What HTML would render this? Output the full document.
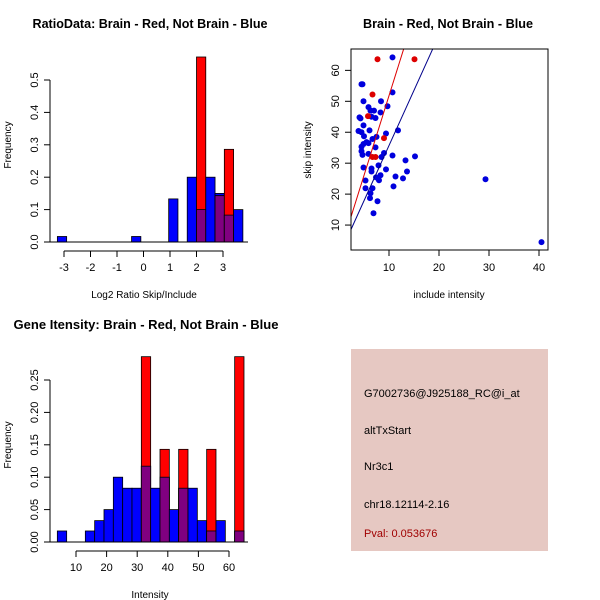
<!DOCTYPE html>
<html><head><meta charset="utf-8"><style>
body{margin:0;background:#fff;}
svg{display:block;font-family:"Liberation Sans",sans-serif;}
</style></head><body>
<svg id="chart" width="600" height="600" viewBox="0 0 600 600"></svg>
<script>
// ---- Data: ratio histogram ----
const ratioBreakStart = -3.25;
const ratioBinWidth = 0.35;
const ratioBlue = [0.017,0,0,0,0,0,0,0,0.017,0,0,0,0.133,0,0.2,0.1,0.2,0.15,0.083,0.1];
const ratioRed  = [0,0,0,0,0,0,0,0,0,0,0,0,0,0,0,0.571,0,0.143,0.286,0];
const ratioXTicks = [-3,-2,-1,0,1,2,3];
const ratioYTicks = [0,0.1,0.2,0.3,0.4,0.5];
// ---- Data: scatter ----
const blueX = [10.7,4.5,4.7,10.7,4.9,8.4,9.7,5.9,6.3,7,8.3,4.1,4.3,6.5,7.3,4.9,6.1,11.8,3.9,4.5,9.4,5,6.7,7.5,5.5,5.9,4.9,4.5,4.5,4.7,7.3,5.9,9,8.5,10.7,15.2,13.3,4.9,6.5,6.5,7.9,9.4,13.6,7.4,8.3,8,5.3,11.3,12.8,5.3,10.9,6.7,6.3,6.2,7.7,6.9,29.3,40.5];
const blueY = [64.2,55.5,55.5,52.9,50,50,48.4,48.1,47,47,46.4,44.8,44.5,45,44.6,42.2,40.6,40.6,40.4,40,39.6,38.7,37.8,38.5,36.8,36.5,36.2,35.3,33.9,32.7,35.1,33,33.3,32,32.5,32.2,30.9,28.6,28.3,27.3,29.3,28,27.3,25.4,26.1,24.5,24.4,25.7,25.1,21.9,22.5,21.9,20.3,18.7,17.7,13.8,24.8,4.5];
const redX = [7.7,15.1,6.7,5.8,9,6.7,7.3];
const redY = [63.6,63.6,52.2,45.2,38.1,32,32];
const redSlope = 5.15, redIntercept = 0.3;
const blueSlope = 3.57, blueIntercept = 0;
const scatXTicks = [10,20,30,40];
const scatYTicks = [10,20,30,40,50,60];
// ---- Data: intensity histogram ----
const intBreakStart = 3.9;
const intBinWidth = 3.05;
const intBlue = [0.017,0,0,0.017,0.033,0.05,0.1,0.083,0.083,0.117,0.083,0.1,0.05,0.083,0.083,0.033,0.017,0.033,0,0.017];
const intRed  = [0,0,0,0,0,0,0,0,0,0.286,0,0.143,0,0.143,0,0,0.143,0,0,0.286];
const intXTicks = [10,20,30,40,50,60];
const intYTicks = [0,0.05,0.1,0.15,0.2,0.25];
const infoLines = ["G7002736@J925188_RC@i_at","altTxStart","Nr3c1","chr18.12114-2.16"];
const pvalText = "Pval: 0.053676";

const NS="http://www.w3.org/2000/svg";
const svg=document.getElementById('chart');
function mk(tag,attrs,parent){const e=document.createElementNS(NS,tag);for(const k in attrs)e.setAttribute(k,attrs[k]);(parent||svg).appendChild(e);return e;}
function txt(x,y,s,attrs,parent){const t=mk('text',Object.assign({x:x,y:y,'font-size':11},attrs||{}),parent);t.textContent=s;return t;}

function hist(cfg){
  const g=mk('g',{});
  
  
  const sx=v=>cfg.x0+(v-cfg.xa)*cfg.kx;
  const sy=v=>cfg.y0-v*cfg.ky;
  const t=txt(cfg.titleX,cfg.titleY,cfg.title,{'font-size':12.5,'font-weight':'bold','text-anchor':'middle',textLength:cfg.titleW,lengthAdjust:'spacingAndGlyphs'},g);
  
  
  for(let i=0;i<cfg.blue.length;i++){
    const l=sx(cfg.bs+i*cfg.bw), r=sx(cfg.bs+(i+1)*cfg.bw);
    const b=cfg.blue[i], rd=cfg.red[i];
    if(b>0){const e=mk('rect',{x:l,y:sy(b),width:r-l,height:sy(0)-sy(b),fill:'#0000ff',stroke:'#000','stroke-width':0.8},g);
      
      }
    if(rd>0){const e=mk('rect',{x:l,y:sy(rd),width:r-l,height:sy(0)-sy(rd),fill:'#ff0000',stroke:'#000','stroke-width':0.8},g);
      
      
      const m=Math.min(b,rd);
      if(m>0){const p=mk('rect',{x:l,y:sy(m),width:r-l,height:sy(0)-sy(m),fill:'#800080',stroke:'#000','stroke-width':0.8},g);
        
        }}
  }
  mk('line',{x1:50,x2:248,y1:sy(0),y2:sy(0),stroke:'#000'},g);
  const ya=mk('g',{},g);
  
  
  const yt=cfg.yticks;
  mk('line',{x1:50,x2:50,y1:sy(yt[0]),y2:sy(yt[yt.length-1]),stroke:'#000'},ya);
  yt.forEach(v=>{mk('line',{x1:44,x2:50,y1:sy(v),y2:sy(v),stroke:'#000'},ya);
    txt(0,0,cfg.yfmt(v),{'text-anchor':'middle',transform:`translate(38,${sy(v)}) rotate(-90)`},ya);});
  const yl=txt(0,0,'Frequency',{'font-size':10,'text-anchor':'middle',transform:`translate(11,${cfg.oy+145}) rotate(-90)`},g);
  
  
  const xa=mk('g',{},g);
  
  
  const xt=cfg.xticks, ay=cfg.oy+251;
  mk('line',{x1:sx(xt[0]),x2:sx(xt[xt.length-1]),y1:ay,y2:ay,stroke:'#000'},xa);
  xt.forEach(v=>{mk('line',{x1:sx(v),x2:sx(v),y1:ay,y2:ay+6,stroke:'#000'},xa);
    txt(sx(v),ay+20,String(v),{'text-anchor':'middle'},xa);});
  const xl=txt(cfg.xlabX,cfg.oy+298,cfg.xlab,{'font-size':10,'text-anchor':'middle'},g);
  
  
}
hist({name:'ratio-histogram',oy:0,title:'RatioData: Brain - Red, Not Brain - Blue',titleX:150,titleY:28,titleW:235,
  x0:64,xa:-3,kx:26.5,y0:242,ky:324,bs:ratioBreakStart,bw:ratioBinWidth,blue:ratioBlue,red:ratioRed,
  xticks:ratioXTicks,yticks:ratioYTicks,yfmt:v=>v.toFixed(1),xlab:'Log2 Ratio Skip/Include',xlabX:144});
hist({name:'intensity-histogram',oy:300,title:'Gene Itensity: Brain - Red, Not Brain - Blue',titleX:146,titleY:329,titleW:265,
  x0:76,xa:10,kx:3.06,y0:542,ky:648,bs:intBreakStart,bw:intBinWidth,blue:intBlue,red:intRed,
  xticks:intXTicks,yticks:intYTicks,yfmt:v=>v.toFixed(2),xlab:'Intensity',xlabX:150});

// scatter
(function(){
  const g=mk('g',{});
  
  
  const sx=v=>339+v*5, sy=v=>256-v*3.094;
  const t=txt(448,28,'Brain - Red, Not Brain - Blue',{'font-size':12.5,'font-weight':'bold','text-anchor':'middle',textLength:170,lengthAdjust:'spacingAndGlyphs'},g);
  
  
  const defs=mk('defs',{},g);const cp=mk('clipPath',{id:'clip'},defs);mk('rect',{x:351,y:49,width:197,height:201},cp);
  const pts=mk('g',{'clip-path':'url(#clip)'},g);
  for(let i=0;i<blueX.length;i++){const c=mk('circle',{cx:sx(blueX[i]),cy:sy(blueY[i]),r:3,fill:'#0000dd'},pts);
    
    }
  for(let i=0;i<redX.length;i++){const c=mk('circle',{cx:sx(redX[i]),cy:sy(redY[i]),r:3,fill:'#dd0000'},pts);
    
    }
  const rl=mk('line',{x1:sx(0),y1:sy(redIntercept),x2:sx(20),y2:sy(redIntercept+20*redSlope),stroke:'#dd0000'},pts);
  
  
  const bl=mk('line',{x1:sx(0),y1:sy(blueIntercept),x2:sx(30),y2:sy(blueIntercept+30*blueSlope),stroke:'#00008b'},pts);
  
  
  mk('rect',{x:351,y:49,width:197,height:201,fill:'none',stroke:'#000'},g);
  scatXTicks.forEach(v=>{mk('line',{x1:sx(v),x2:sx(v),y1:250,y2:256,stroke:'#000'},g);txt(sx(v),271,String(v),{'text-anchor':'middle'},g);});
  scatYTicks.forEach(v=>{mk('line',{x1:345,x2:351,y1:sy(v),y2:sy(v),stroke:'#000'},g);txt(0,0,String(v),{'text-anchor':'middle',transform:`translate(339,${sy(v)}) rotate(-90)`},g);});
  const xl=txt(449,298,'include intensity',{'font-size':10,'text-anchor':'middle'},g);
  
  
  const yl=txt(0,0,'skip intensity',{'font-size':10,'text-anchor':'middle',transform:'translate(311,150) rotate(-90)'},g);
  
  
})();

// info box
(function(){
  const g=mk('g',{});
  
  
  mk('rect',{x:351,y:349,width:197,height:202,fill:'#e6c8c2'},g);
  const ys=[397,434,470,508];
  infoLines.forEach((s,i)=>{const t=txt(364,ys[i],s,{'font-size':11},g);
    
    });
  const p=txt(364,537,pvalText,{'font-size':11,fill:'#a00000'},g);
  
  
})();
</script>
</body></html>
